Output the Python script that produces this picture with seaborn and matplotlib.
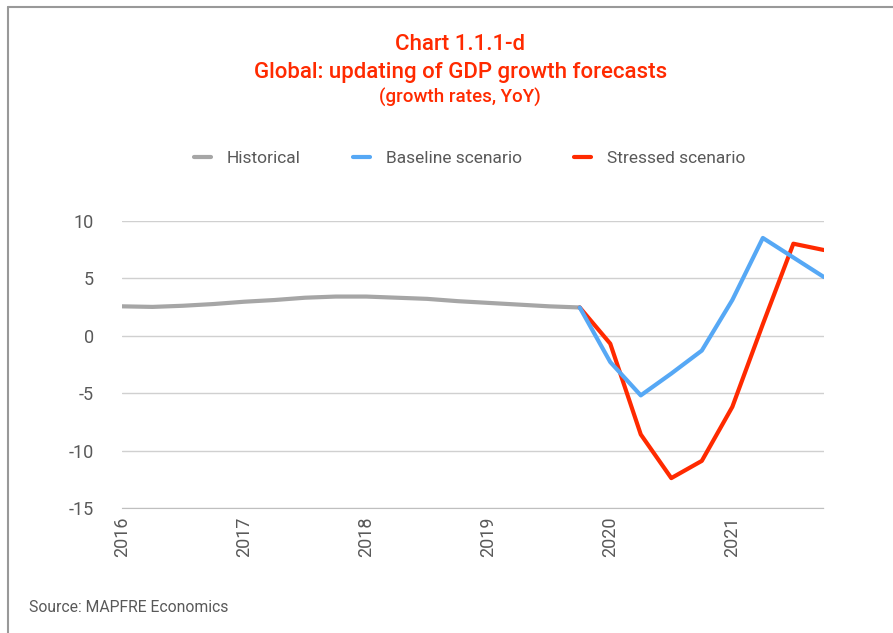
import matplotlib.pyplot as plt
import seaborn as sns
import pandas as pd
import numpy as np
from matplotlib.lines import Line2D

# Quarterly data, 2016Q1 .. 2021Q4
quarters = np.arange(24)
historical = [2.55, 2.5, 2.6, 2.75, 2.95, 3.1, 3.3, 3.4, 3.4, 3.3, 3.2, 3.0,
              2.85, 2.7, 2.55, 2.45]
baseline = [2.45, -2.3, -5.2, -3.3, -1.3, 3.1, 8.5, 6.8, 5.1]
stressed = [2.45, -0.7, -8.6, -12.4, -10.9, -6.2, 1.0, 8.0, 7.45]
year_labels = ['2016', '2017', '2018', '2019', '2020', '2021']

hist_df = pd.DataFrame({'q': quarters[:16], 'v': historical})
base_df = pd.DataFrame({'q': quarters[15:], 'v': baseline})
stress_df = pd.DataFrame({'q': quarters[15:], 'v': stressed})

sns.set_style('white')
plt.rcParams['font.family'] = ['Roboto', 'DejaVu Sans']

red = '#ff2a00'
blue = '#56a8f5'
grey = '#a6a6a6'
txt = '#595959'

fig = plt.figure(figsize=(8.93, 6.33), dpi=100)
ax = fig.add_axes([0.1366, 0.1975, 0.786, 0.4538])

sns.lineplot(data=hist_df, x='q', y='v', ax=ax, color=grey, linewidth=3)
sns.lineplot(data=stress_df, x='q', y='v', ax=ax, color=red, linewidth=3)
sns.lineplot(data=base_df, x='q', y='v', ax=ax, color=blue, linewidth=3)

ax.set_xlim(0, 23)
ax.set_ylim(-15, 10)
ax.set_yticks([10, 5, 0, -5, -10, -15])
ax.set_yticklabels(['10', '5', '0', '-5', '-10', '-15'])
ax.set_xticks(quarters[::4])
ax.set_xticklabels(year_labels, rotation=90)
ax.tick_params(axis='both', length=0, labelsize=13, colors=txt)
ax.tick_params(axis='y', pad=20)
ax.tick_params(axis='x', pad=6)
ax.set_xlabel('')
ax.set_ylabel('')
ax.yaxis.grid(True, color='#d0d0d0', linewidth=1)
ax.set_axisbelow(True)
for s in ['top', 'right', 'left']:
    ax.spines[s].set_visible(False)
ax.spines['bottom'].set_color('#bfbfbf')
ax.spines['bottom'].set_linestyle((0, (1, 1)))

# titles
fig.text(0.5155, 0.929, 'Chart 1.1.1-d', ha='center', va='center', color=red,
         fontsize=16, fontweight='medium')
fig.text(0.5155, 0.886, 'Global: updating of GDP growth forecasts', ha='center', va='center',
         color=red, fontsize=16, fontweight='medium')
fig.text(0.5155, 0.846, '(growth rates, YoY)', ha='center', va='center', color=red,
         fontsize=13.5, fontweight='medium')

handles = [Line2D([], [], color=grey, linewidth=3),
           Line2D([], [], color=blue, linewidth=3),
           Line2D([], [], color=red, linewidth=3)]
fig.legend(handles, ['Historical', 'Baseline scenario', 'Stressed scenario'],
           loc='center', bbox_to_anchor=(0.526, 0.75), ncol=3, frameon=False,
           fontsize=12.5, labelcolor=txt, handlelength=1.0, handletextpad=0.9,
           columnspacing=3.0)

fig.text(0.033, 0.04, 'Source: MAPFRE Economics', ha='left', va='center', color=txt, fontsize=11.3)

# frame lines (left and top)
fig.add_artist(Line2D([0.0095, 0.0095], [0.0, 0.989], transform=fig.transFigure,
                      color='#999999', linewidth=1.5))
fig.add_artist(Line2D([0.0095, 1.0], [0.989, 0.989], transform=fig.transFigure,
                      color='#999999', linewidth=1.5))

fig.savefig('out.png', dpi=100)
